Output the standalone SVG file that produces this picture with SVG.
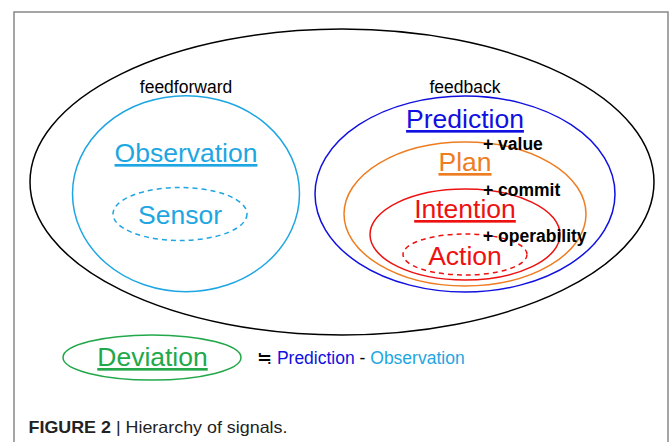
<svg xmlns="http://www.w3.org/2000/svg" width="669" height="442" viewBox="0 0 669 442">
<style>
.lbl{font-family:"Liberation Sans",Arial,sans-serif;}
.big{font-size:26.5px;text-anchor:middle;}
.u{text-decoration:underline;}
.add{font-size:17.5px;font-weight:bold;fill:#000;}
.sm{font-size:17.5px;}
.e{fill:none;stroke-width:1.5;}
.dash{stroke-dasharray:5 4;}
</style>
<rect x="14" y="12" width="654" height="440" fill="#fff" stroke="#888" stroke-width="1.5"/>
<g id="connectors"></g>
<g id="outer">
<ellipse class="e" cx="342" cy="182" rx="312" ry="153" stroke="#000"/>
</g>
<g id="feedforward">
<text class="lbl sm" x="186" y="92.5" text-anchor="middle" fill="#000">feedforward</text>
</g>
<g id="feedback">
<text class="lbl sm" x="465" y="92.5" text-anchor="middle" fill="#000">feedback</text>
</g>
<g id="observation">
<ellipse class="e" cx="186" cy="193.7" rx="113.5" ry="98" stroke="#1ea6e3"/>
<text class="lbl big u" x="186" y="162" fill="#1ea6e3">Observation</text>
</g>
<g id="sensor">
<ellipse class="e dash" cx="180" cy="214" rx="67" ry="26.5" stroke="#1ea6e3"/>
<text class="lbl big" x="180" y="224" fill="#1ea6e3">Sensor</text>
</g>
<g id="prediction">
<ellipse class="e" cx="465" cy="194" rx="150" ry="98" stroke="#1010e0"/>
<text class="lbl big u" x="465" y="128" fill="#1010e0">Prediction</text>
</g>
<g id="plan">
<ellipse class="e" cx="465" cy="214" rx="121" ry="72" stroke="#ee7d22"/>
<text class="lbl big u" x="465" y="171" fill="#ee7d22">Plan</text>
</g>
<g id="intention">
<ellipse class="e" cx="465" cy="234.5" rx="95" ry="45.5" stroke="#ee1111"/>
<text class="lbl big u" x="465" y="218" fill="#ee1111">Intention</text>
</g>
<g id="action">
<ellipse class="e dash" cx="465" cy="254.5" rx="62" ry="20.5" stroke="#ee1111"/>
<text class="lbl big" x="465" y="265" fill="#ee1111">Action</text>
</g>
<g id="additions">
<text class="lbl add" x="483" y="149.5">+ value</text>
<text class="lbl add" x="483" y="195.5">+ commit</text>
<text class="lbl add" x="483" y="241.5">+ operability</text>
</g>
<g id="deviation">
<ellipse class="e" cx="152" cy="357.5" rx="89" ry="22.5" stroke="#22a84a"/>
<text class="lbl big u" x="152.5" y="366" fill="#22a84a">Deviation</text>
</g>
<g id="formula">
<text class="lbl sm" x="257" y="364"><tspan fill="#000">≒ </tspan><tspan fill="#1010e0">Prediction</tspan><tspan fill="#000"> - </tspan><tspan fill="#1ea6e3">Observation</tspan></text>
</g>
<g id="caption">
<text class="lbl" x="28.5" y="433" font-size="16.5" fill="#222" textLength="259" lengthAdjust="spacingAndGlyphs"><tspan font-weight="bold">FIGURE 2</tspan> | Hierarchy of signals.</text>
</g>
</svg>
